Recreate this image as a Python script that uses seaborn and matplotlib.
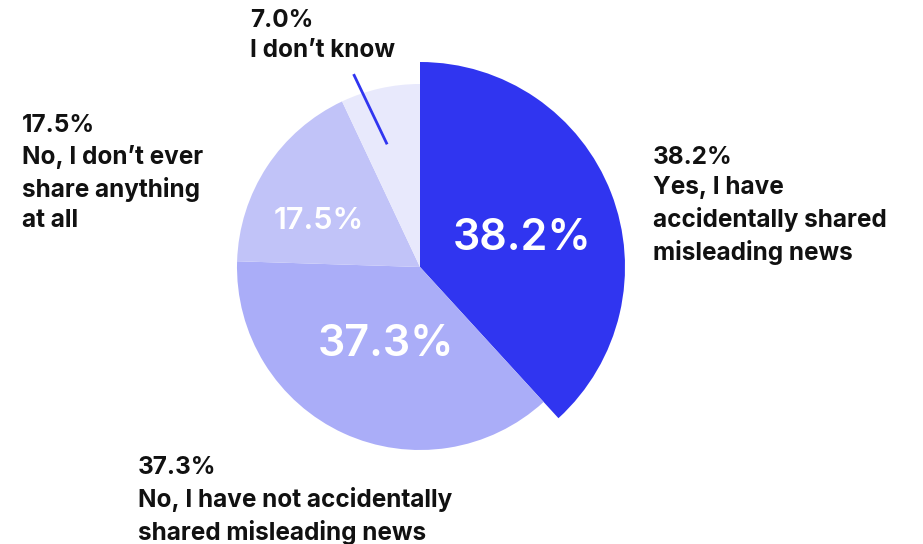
import numpy as np
import matplotlib
matplotlib.use("Agg")
import matplotlib.pyplot as plt
import seaborn as sns

# Survey answers, clockwise from 12 o'clock
answers = [
    "Yes, I have\naccidentally shared\nmisleading news",
    "No, I have not accidentally\nshared misleading news",
    "No, I don\u2019t ever\nshare anything\nat all",
    "I don\u2019t know",
]
shares = [38.2, 37.3, 17.5, 7.0]
inner_labels = ["38.2%", "37.3%", "17.5%", ""]
slice_colors = ["#3035F0", "#AAADF8", "#C1C3F8", "#E8E9FC"]

sns.set_theme(style="white")
plt.rcParams["font.family"] = ["Inter", "DejaVu Sans"]

W, H = 923, 544
fig = plt.figure(figsize=(W / 100, H / 100), dpi=100)
ax = fig.add_axes([0, 0, 1, 1])

cx, cy = 420, H - 267
base_r = 183
wedges, _ = ax.pie(
    shares,
    colors=slice_colors,
    startangle=90,
    counterclock=False,
    center=(cx, cy),
    radius=base_r,
    wedgeprops=dict(linewidth=0),
    frame=True,
)
# the leading answer is pulled out as a larger slice
wedges[0].set_radius(205)
ax.set_xlim(0, W)
ax.set_ylim(0, H)
ax.set_aspect("equal")
ax.axis("off")

# percentage labels inside the slices
inner_pos = [(522, 238, 31), (386, 345, 31), (319, 221, 22)]
for lbl, (px, py, fs) in zip(inner_labels, inner_pos):
    ax.text(px, H - py, lbl, color="white", fontsize=fs, fontweight="semibold",
            ha="center", va="center")

# outside labels: value on the first line, answer below
outer_pos = [(653, 146), (138, 456), (22, 114), (250, 9)]
for val, ans, (px, py) in zip(shares, answers, outer_pos):
    ax.text(px, H - py, f"{val:.1f}%\n{ans}", color="#111111", fontsize=17.5,
            fontweight="bold", ha="left", va="top", linespacing=1.40)

# leader line for the smallest slice
a0, a1 = np.deg2rad(105), np.deg2rad(109)
r0, r1 = 127, 204
ax.plot([cx + r0 * np.cos(a0), cx + r1 * np.cos(a1)],
        [cy + r0 * np.sin(a0), cy + r1 * np.sin(a1)],
        color=slice_colors[0], linewidth=2, solid_capstyle="butt")

fig.savefig("out.png", dpi=100, facecolor="white")
